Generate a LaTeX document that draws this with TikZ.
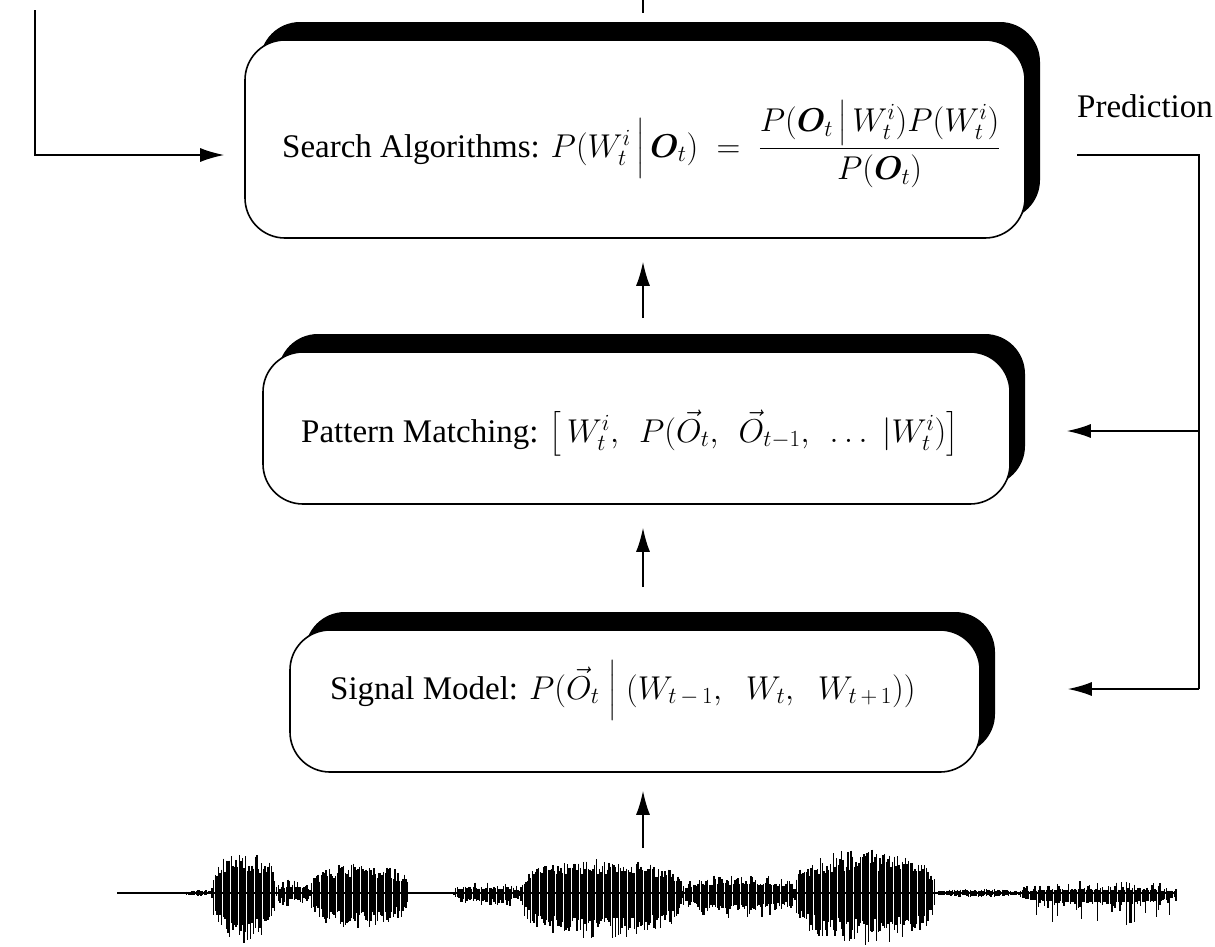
\RequirePackage{fix-cm}
\documentclass[tikz,border=0pt]{standalone}
\usepackage{amsmath}
\usepackage{bm}
\usepackage{fontspec}
\setmainfont{Liberation Serif}
\usetikzlibrary{arrows.meta,shadows}

\begin{document}
\begin{tikzpicture}[x=1pt,y=-1pt,
  font=\fontsize{33}{40}\selectfont,
  stage/.style={draw=black, line width=1.6pt, fill=white, rounded corners=40pt,
    inner sep=0pt,
    drop shadow={shadow xshift=15pt, shadow yshift=18pt, fill=black, opacity=1}},
  caption/.style={anchor=base west, inner sep=0pt},
  link/.style={line width=1.6pt},
  flow/.style={link, -{Latex[length=24pt,width=14pt]}},
  wave/.style={line width=1.4pt},
]
\useasboundingbox (0,0) rectangle (1215,946);

% speech waveform: start/end/up/down/core/spikiness (1, 2 or 4)
\pgfmathsetseed{11}
\draw[line width=2.2pt] (117,893) -- (1177,893);
\foreach \sA/\sB/\sU/\sD/\sC/\sP in {
  185/212/3/3/0.45/1,
  212/275/43/52/0.5/1,
  275/310/14/14/0.4/2,
  310/409/30/36/0.5/1,
  454/521/11/16/0.4/2,
  521/682/34/46/0.55/1,
  682/795/19/27/0.45/2,
  795/935/44/52/0.5/1,
  935/1019/4/4/0.5/1,
  1019/1177/13/36/0.25/4}{
  \pgfmathsetmacro\sW{180/(\sB-\sA)}
  \pgfmathsetmacro\sN{\sA+1.6}
  \foreach \x in {\sA,\sN,...,\sB}{
    \pgfmathsetmacro\sS{max(sin(\sW*(\x-\sA)),0.001)}
    \pgfmathsetmacro\sE{sqrt(sqrt(\sS))}
    \pgfmathsetmacro\rA{rnd}
    \pgfmathsetmacro\rB{rnd}
    \pgfmathsetmacro\fA{(\sP==1)*\rA+(\sP==2)*\rA*\rA+(\sP==4)*\rA*\rA*\rA*\rA}
    \pgfmathsetmacro\fB{(\sP==1)*\rB+(\sP==2)*\rB*\rB+(\sP==4)*\rB*\rB*\rB*\rB}
    \pgfmathsetmacro\yu{893-\sU*\sE*(\sC+(1-\sC)*\fA)}
    \pgfmathsetmacro\yd{893+\sD*\sE*(\sC+(1-\sC)*\fB)}
    \draw[wave] (\x,\yu) -- (\x,\yd);
  }
}

% processing stages
\node[stage, minimum width=780pt, minimum height=198pt] (sa) at (635,139) {};
\node[stage, minimum width=747pt, minimum height=152pt] (pm) at (636.5,428) {};
\node[stage, minimum width=690pt, minimum height=142pt] (sm) at (635,701) {};

\node[caption] (saT) at (282,157)
  {Search Algorithms: $P(W^{i}_{t}\,\Big|\,\bm{O}_{t}) \;=\;
   \dfrac{P(\bm{O}_{t}\,\big|\,W^{i}_{t})P(W^{i}_{t})}{P(\bm{O}_{t})}$};
\node[caption] (pmT) at (301,442)
  {Pattern Matching: $\bigl[\,W^{i}_{t},\;\, P(\vec{O}_{t},\;\, \vec{O}_{t-1},\;\, \ldots\;|W^{i}_{t})\bigr]$};
\node[caption] (smT) at (330,699)
  {Signal Model: $P(\vec{O}_{t}\;\Big|\;(W_{t\,-\,1},\;\; W_{t},\;\; W_{t\,+\,1}))$};
\node[caption] (pred) at (1077,117) {Prediction};

% connectors
\coordinate (ax) at (643,0);
\coordinate (fb) at (35,10);
\coordinate (ps) at (1077,155);
\coordinate (rail) at (1199,689);
\coordinate (wv) at (643,848);
\coordinate (saIn) at ([yshift=-16pt]sa.west);
\coordinate (pmIn) at ([yshift=-3pt]pm.east);
\coordinate (smIn) at ([yshift=12pt]sm.east);

\draw[link, shorten >=26pt] (ax) -- (ax |- sa.north);
\draw[flow, shorten >=20pt] (fb) |- (saIn);
\draw[link] (ps) -| (rail);
\draw[flow, shorten >=56pt] (rail |- pmIn) -- (pmIn);
\draw[flow, shorten >=87pt] (rail) -- (smIn);
\draw[flow, shorten <=33pt, shorten >=23pt] (ax |- pm.north) -- (ax |- sa.south);
\draw[flow, shorten <=42pt, shorten >=23pt] (ax |- sm.north) -- (ax |- pm.south);
\draw[flow, shorten >=18pt] (wv) -- (ax |- sm.south);
\end{tikzpicture}
\end{document}
